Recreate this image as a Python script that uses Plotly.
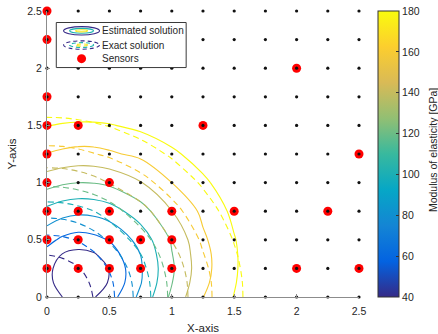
import plotly.graph_objects as go

# Field sampling nodes (same for x and y), in axis units
nodes = [0, 0.125, 0.25, 0.375, 0.5, 0.75, 1.0, 1.25, 1.5, 1.75, 2.0, 2.5]

# Estimated modulus of elasticity [GPa]; rows follow y = nodes, columns x = nodes
estimated_gpa = [
    [59.0, 44.8, 40.6, 43.7, 55.4, 86.5, 123.3, 156.1, 175.6, 195.3, 215.1, 255.1],
    [50.8, 36.7, 28.5, 34.9, 46.5, 81.1, 118.6, 152.0, 173.6, 193.6, 213.8, 254.0],
    [50.4, 36.5, 28.0, 34.7, 45.9, 80.2, 116.5, 150.1, 172.6, 192.9, 213.1, 253.6],
    [57.6, 44.4, 40.1, 43.3, 54.1, 82.4, 118.6, 150.6, 172.7, 193.0, 213.2, 253.6],
    [69.3, 60.0, 55.4, 58.2, 64.6, 89.0, 121.4, 153.3, 173.9, 193.9, 214.0, 254.2],
    [95.5, 89.1, 86.2, 87.3, 92.1, 110.6, 137.6, 160.5, 179.2, 198.3, 217.8, 257.2],
    [126.6, 121.7, 119.4, 120.0, 123.3, 136.9, 156.5, 171.0, 187.9, 205.7, 224.2, 262.3],
    [155.8, 152.8, 150.8, 151.1, 153.8, 160.5, 171.0, 184.2, 199.3, 215.7, 233.0, 269.3],
    [175.6, 173.6, 172.6, 172.7, 173.9, 179.2, 187.9, 199.3, 212.8, 227.8, 243.8, 278.2],
    [195.3, 193.7, 192.9, 193.0, 193.9, 198.3, 205.7, 215.7, 227.8, 241.4, 256.2, 288.6],
    [215.1, 213.8, 213.1, 213.2, 214.0, 217.8, 224.2, 233.0, 243.8, 256.2, 270.0, 300.4],
    [255.1, 254.0, 253.6, 253.6, 254.2, 257.2, 262.3, 269.3, 278.2, 288.6, 300.4, 326.2],
]

# Exact modulus of elasticity [GPa] on the same nodes
exact_gpa = [
    [20.0, 28.4, 36.9, 45.5, 58.4, 89.5, 123.8, 150.9, 170.0, 187.9, 205.7, 241.5],
    [28.4, 32.0, 38.9, 47.6, 60.0, 90.8, 124.8, 151.4, 170.3, 188.2, 206.0, 241.7],
    [36.9, 38.9, 43.9, 53.4, 64.8, 94.6, 127.8, 153.2, 171.5, 189.2, 206.9, 242.4],
    [45.5, 47.6, 53.4, 61.5, 73.5, 100.6, 132.5, 155.9, 173.3, 190.7, 208.2, 243.5],
    [58.4, 60.0, 64.8, 73.5, 84.2, 109.8, 138.6, 159.0, 175.8, 192.9, 210.2, 245.1],
    [89.5, 90.8, 94.6, 100.6, 109.8, 131.6, 150.9, 167.0, 182.7, 198.9, 215.5, 249.4],
    [123.8, 124.8, 127.8, 132.5, 138.6, 150.9, 163.8, 177.2, 191.7, 206.9, 222.6, 255.3],
    [150.9, 151.4, 153.2, 155.9, 159.0, 167.0, 177.2, 189.2, 202.4, 216.5, 231.3, 262.6],
    [170.0, 170.3, 171.5, 173.3, 175.8, 182.7, 191.7, 202.4, 214.4, 227.6, 241.5, 271.2],
    [187.9, 188.2, 189.2, 190.7, 192.9, 198.9, 206.9, 216.5, 227.6, 239.7, 252.8, 281.0],
    [205.7, 206.0, 206.9, 208.2, 210.2, 215.5, 222.6, 231.3, 241.5, 252.8, 264.9, 291.7],
    [241.5, 241.7, 242.4, 243.5, 245.1, 249.4, 255.3, 262.6, 271.2, 281.0, 291.7, 315.6],
]

# Contour levels and colour range [GPa]
level_start, level_end, level_count = 45.0, 175.0, 8
color_min, color_max = 40, 180
colorbar_ticks = [40, 60, 80, 100, 120, 140, 160, 180]

# Measurement grid positions (both axes)
grid_ticks = [0, 0.25, 0.5, 0.75, 1.0, 1.25, 1.5, 1.75, 2.0, 2.25, 2.5]

# Sensor locations
sensor_x = [0, 0, 0, 0, 0, 0, 0, 0, 0,
            0.25, 0.25, 0.25, 0.25,
            0.5, 0.5, 0.5, 0.5,
            0.75, 0.75,
            1.0, 1.0, 1.0,
            1.25, 1.5, 2.0, 2.0, 2.25, 2.5, 2.5]
sensor_y = [0.25, 0.5, 0.75, 1.0, 1.25, 1.5, 1.75, 2.25, 2.5,
            0.25, 0.5, 0.75, 1.5,
            0.25, 0.5, 0.75, 1.0,
            0.25, 0.5,
            0.25, 0.5, 0.75,
            1.5, 0.75, 2.0, 0.25, 0.75, 0.25, 1.25]

axis_ticks = [0, 0.5, 1, 1.5, 2, 2.5]
axis_labels = ['0', '0.5', '1', '1.5', '2', '2.5']
legend_labels = ['Estimated solution', 'Exact solution', 'Sensors']

parula = [
    [0.0, '#352a87'], [0.125, '#0363e1'], [0.25, '#1485d4'],
    [0.375, '#06a7c6'], [0.5, '#38b99e'], [0.625, '#92bf73'],
    [0.75, '#d9ba56'], [0.875, '#fcce2e'], [1.0, '#f9fb0e'],
]

FONT = 'Liberation Sans, Arial, sans-serif'
TEXT = '#262626'
SENSOR_RED = '#ff0000'
DASH = '6px,4px'
KEY_DASH = '4px,3px'

# Plot-area geometry in pixels (figure is 438 x 334)
FIG_W, FIG_H = 438, 334
PLOT_L, PLOT_R, PLOT_T, PLOT_B = 46.7, 359.0, 11.0, 296.7


def paper_x(px):
    return (px - PLOT_L) / (PLOT_R - PLOT_L)


def paper_y(py):
    return (PLOT_B - py) / (PLOT_B - PLOT_T)


level_step = (level_end - level_start) / (level_count - 1)
contour_levels = dict(coloring='lines', start=level_start, end=level_end, size=level_step)

fig = go.Figure()

fig.add_trace(go.Contour(
    x=nodes, y=nodes, z=estimated_gpa,
    contours=contour_levels,
    line=dict(width=1.1, smoothing=1.0),
    colorscale=parula, zmin=color_min, zmax=color_max, zauto=False,
    showscale=False, name=legend_labels[0], showlegend=False,
    hoverinfo='skip',
))

fig.add_trace(go.Contour(
    x=nodes, y=nodes, z=exact_gpa,
    contours=contour_levels,
    line=dict(width=1.1, smoothing=1.0, dash=DASH),
    colorscale=parula, zmin=color_min, zmax=color_max, zauto=False,
    showscale=False, name=legend_labels[1], showlegend=False,
    hoverinfo='skip',
))

fig.add_trace(go.Scatter(
    x=sensor_x, y=sensor_y, mode='markers', name=legend_labels[2], showlegend=False,
    marker=dict(color=SENSOR_RED, size=9, line=dict(width=0)),
    cliponaxis=False, hoverinfo='skip',
))

grid_x = [gx for gy in grid_ticks for gx in grid_ticks]
grid_y = [gy for gy in grid_ticks for gx in grid_ticks]
fig.add_trace(go.Scatter(
    x=grid_x, y=grid_y, mode='markers', showlegend=False,
    marker=dict(color='#111111', size=3.2, line=dict(width=0)),
    cliponaxis=False, hoverinfo='skip',
))

# Continuous colour bar for the modulus scale
fig.add_trace(go.Scatter(
    x=[0, 0], y=[0, 0], mode='markers', showlegend=False, hoverinfo='skip',
    marker=dict(
        color=[color_min, color_max], colorscale=parula, cmin=color_min, cmax=color_max,
        opacity=0, size=1, showscale=True,
        colorbar=dict(
            x=paper_x(378.0), xanchor='left', xpad=0, ypad=0,
            y=0.5, yanchor='middle', len=1.0, lenmode='fraction',
            thickness=21, thicknessmode='pixels',
            outlinewidth=1, outlinecolor='#333333',
            tickvals=colorbar_ticks, ticks='inside', ticklen=3, tickcolor='#333333',
            tickfont=dict(family=FONT, size=10.5, color=TEXT),
        ),
    ),
))

# Legend box with contour-style keys
shapes = [dict(type='rect', xref='paper', yref='paper',
               x0=paper_x(56), x1=paper_x(186), y0=paper_y(67.5), y1=paper_y(22.5),
               fillcolor='white', line=dict(color='#3a3a3a', width=1), layer='above')]
key_cx = 81.3
key_rows = [30.8, 45.0, 58.6]
ring_sizes = [(18.0, 4.2, '#352a87'), (12.0, 2.4, '#1fb3b0'), (6.0, 1.1, '#f5e81a')]
for row, dash in ((key_rows[0], 'solid'), (key_rows[1], KEY_DASH)):
    for rx, ry, col in ring_sizes:
        shapes.append(dict(type='circle', xref='paper', yref='paper',
                           x0=paper_x(key_cx - rx), x1=paper_x(key_cx + rx),
                           y0=paper_y(row + ry), y1=paper_y(row - ry),
                           line=dict(color=col, width=1.1, dash=dash), layer='above'))
shapes.append(dict(type='circle', xref='paper', yref='paper',
                   x0=paper_x(key_cx - 4.5), x1=paper_x(key_cx + 4.5),
                   y0=paper_y(key_rows[2] + 4.5), y1=paper_y(key_rows[2] - 4.5),
                   fillcolor=SENSOR_RED, line=dict(width=0), layer='above'))

annotations = [dict(text=lbl, xref='paper', yref='paper', x=paper_x(100.0), y=paper_y(row),
                    xanchor='left', yanchor='middle', showarrow=False,
                    font=dict(family=FONT, size=10, color=TEXT))
               for lbl, row in zip(legend_labels, key_rows)]
annotations.append(dict(text='Modulus of elasticity [GPa]', xref='paper', yref='paper',
                        x=paper_x(433.0), y=paper_y(150.0), textangle=-90,
                        xanchor='center', yanchor='middle', showarrow=False,
                        font=dict(family=FONT, size=10.5, color=TEXT)))

axis_common = dict(
    range=[0, 2.5], tickvals=axis_ticks, ticktext=axis_labels,
    showgrid=False, zeroline=False, showline=True, linecolor='#8c8c8c', linewidth=1.3,
    ticks='inside', ticklen=3, tickcolor='#8c8c8c',
    tickfont=dict(family=FONT, size=10.5, color=TEXT),
)

fig.update_layout(
    width=FIG_W, height=FIG_H,
    margin=dict(l=PLOT_L, r=FIG_W - PLOT_R, t=PLOT_T, b=FIG_H - PLOT_B, autoexpand=False),
    plot_bgcolor='white', paper_bgcolor='white',
    xaxis=dict(**axis_common, ticklabelstandoff=4,
               title=dict(text='X-axis', standoff=10,
                          font=dict(family=FONT, size=11.5, color=TEXT))),
    yaxis=dict(**axis_common, ticklabelstandoff=2,
               title=dict(text='Y-axis', standoff=8,
                          font=dict(family=FONT, size=11.5, color=TEXT))),
    shapes=shapes,
    annotations=annotations,
    showlegend=False,
)

fig.write_html('out.html')
